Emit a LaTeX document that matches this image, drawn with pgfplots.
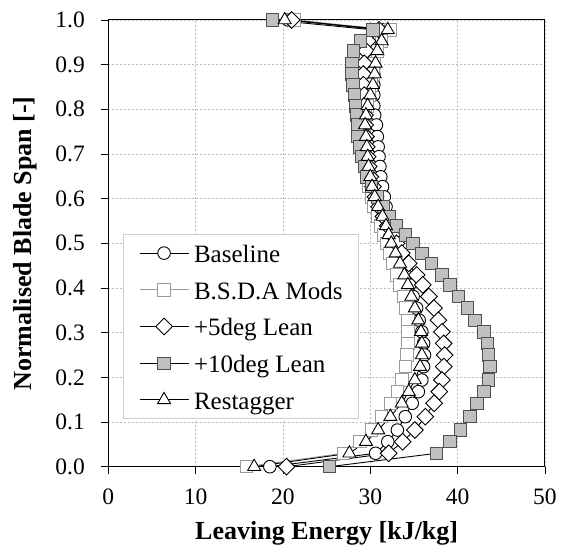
\documentclass[border=0pt]{standalone}
\usepackage{pgfplots}
\pgfplotsset{compat=1.18}
\usepackage{pgfplotstable}
\usepackage{fontspec}
\setmainfont{Liberation Serif}
\definecolor{bsdagray}{HTML}{9A9A9A}
\definecolor{sqfill}{HTML}{C0C0C0}
\definecolor{sqedge}{HTML}{505050}
\definecolor{gridgray}{HTML}{BDBDBD}
\definecolor{leggray}{HTML}{CFCFCF}
\pgfplotstableread{
span   base  bsda  lean5 lean10 restag
1.000  20.6  21.3  21.0  18.8   20.2
0.978  31.6  32.3  31.0  30.3   32.0
0.953  30.9  31.3  29.7  28.9   31.3
0.931  30.6  30.8  29.5  28.1   30.8
0.903  30.4  30.5  29.3  27.9   30.6
0.879  30.4  30.3  29.2  27.9   30.5
0.855  30.4  30.1  29.2  28.0   30.3
0.832  30.4  29.9  29.3  28.2   30.0
0.808  30.4  29.6  29.3  28.3   29.7
0.787  30.5  29.4  29.4  28.4   29.5
0.765  30.7  29.3  29.4  28.5   29.4
0.739  30.8  29.3  29.5  28.6   29.5
0.716  30.9  29.3  29.6  28.8   29.6
0.694  31.0  29.3  29.7  29.0   29.7
0.672  31.1  29.4  29.8  29.3   29.8
0.649  31.2  29.6  30.0  29.6   30.0
0.627  31.4  29.8  30.3  30.1   30.2
0.604  31.6  30.1  30.6  30.8   30.5
0.582  31.8  30.4  31.0  31.5   30.9
0.560  32.0  30.8  31.5  32.2   31.4
0.539  32.2  31.2  32.0  33.0   31.8
0.519  32.5  31.5  32.5  34.0   32.1
0.500  32.8  31.9  33.0  34.9   32.4
0.478  33.2  32.2  33.6  35.9   32.9
0.455  33.6  32.6  34.4  37.0   33.4
0.429  34.1  33.0  35.3  38.2   33.9
0.407  34.5  33.4  36.0  39.1   34.3
0.381  34.9  33.8  36.7  40.1   34.7
0.355  35.3  34.1  37.3  41.1   35.1
0.328  35.6  34.3  37.8  42.0   35.5
0.302  35.9  34.3  38.2  43.0   35.8
0.276  36.1  34.3  38.4  43.4   35.9
0.250  36.2  34.2  38.5  43.5   35.9
0.224  36.1  34.0  38.4  43.7   35.7
0.194  35.9  33.6  38.2  43.5   35.1
0.168  35.5  33.1  37.9  43.0   34.4
0.142  34.8  32.3  37.3  42.2   33.6
0.112  34.0  31.3  36.3  41.4   32.3
0.082  33.1  30.1  35.1  40.3   30.9
0.056  32.0  28.8  33.7  39.1   29.5
0.030  30.6  26.9  32.1  37.6   27.6
0.000  18.5  15.8  20.4  25.3   16.7
}\datatable
\pgfplotsset{
  /pgfplots/legend image code/.code={%
    \draw[mark repeat=2,mark phase=2,#1] plot coordinates {(0bp,0bp) (24.5bp,0bp) (49bp,0bp)};}
}
\begin{document}
\begin{tikzpicture}
\path[use as bounding box] (-108.3bp,-80.3bp) rectangle (458.7bp,466.7bp);
\begin{axis}[
  at={(0,0)}, anchor=south west,
  scale only axis, width=436.7bp, height=446.7bp,
  xmin=0, xmax=50, ymin=0, ymax=1,
  xtick={0,10,20,30,40,50},
  ytick={0,0.1,0.2,0.3,0.4,0.5,0.6,0.7,0.8,0.9,1.0},
  tick pos=left, tick align=outside,
  major tick length=7bp,
  tick style={black, line width=0.8bp},
  axis line style={black, line width=1bp},
  grid=major,
  major grid style={gridgray, line width=0.6bp, dash pattern=on 2bp off 2bp},
  /pgf/number format/assume math mode=true,
  yticklabel style={/pgf/number format/.cd, fixed, fixed zerofill, precision=1, /tikz/.cd, xshift=-13bp},
  xticklabel style={yshift=-12bp},
  ticklabel style={font=\fontsize{23.5bp}{28bp}\selectfont},
  xlabel={\textbf{Leaving Energy [kJ/kg]}},
  ylabel={\textbf{Normalised Blade Span [-]}},
  label style={font=\fontsize{26bp}{30bp}\selectfont},
  xlabel style={at={(axis description cs:0.5,-0.1619)}, anchor=base},
  ylabel style={at={(axis description cs:-0.177,0.5)}, anchor=base, rotate=0},
  legend cell align=left,
  legend style={at={(axis cs:1.65,0.5205)}, anchor=north west,
    draw=leggray, line width=0.8bp, fill=white,
    inner xsep=16bp, inner ysep=7.5bp,
    font=\fontsize{25bp}{30bp}\selectfont,
    nodes={inner sep=0pt, text height=20.5bp, text depth=1.5bp},
    row sep=14.7bp,
    /tikz/every odd column/.append style={column sep=5bp}},
]
\addplot[black, line width=0.9bp, mark=*, mark size=6.3bp,
  mark options={fill=white, draw=black, line width=0.9bp, solid}]
  table[x=base, y=span] {\datatable};
\addlegendentry{Baseline}
\addplot[bsdagray, line width=0.9bp, mark=square*, mark size=6.2bp,
  mark options={fill=white, draw=bsdagray, line width=0.9bp, solid}]
  table[x=bsda, y=span] {\datatable};
\addlegendentry{B.S.D.A Mods}
\addplot[black, line width=0.9bp, mark=square*, mark size=5.9bp,
  mark options={rotate=45, fill=white, draw=black, line width=0.9bp, solid}]
  table[x=lean5, y=span] {\datatable};
\addlegendentry{+5deg Lean}
\addplot[black, line width=0.9bp, mark=square*, mark size=6.2bp,
  mark options={fill=sqfill, draw=sqedge, line width=0.9bp, solid}]
  table[x=lean10, y=span] {\datatable};
\addlegendentry{+10deg Lean}
\addplot[black, line width=0.9bp, mark=triangle*, mark size=7.5bp,
  mark options={fill=white, draw=black, line width=0.9bp, solid}]
  table[x=restag, y=span] {\datatable};
\addlegendentry{Restagger}
\end{axis}
\end{tikzpicture}
\end{document}
